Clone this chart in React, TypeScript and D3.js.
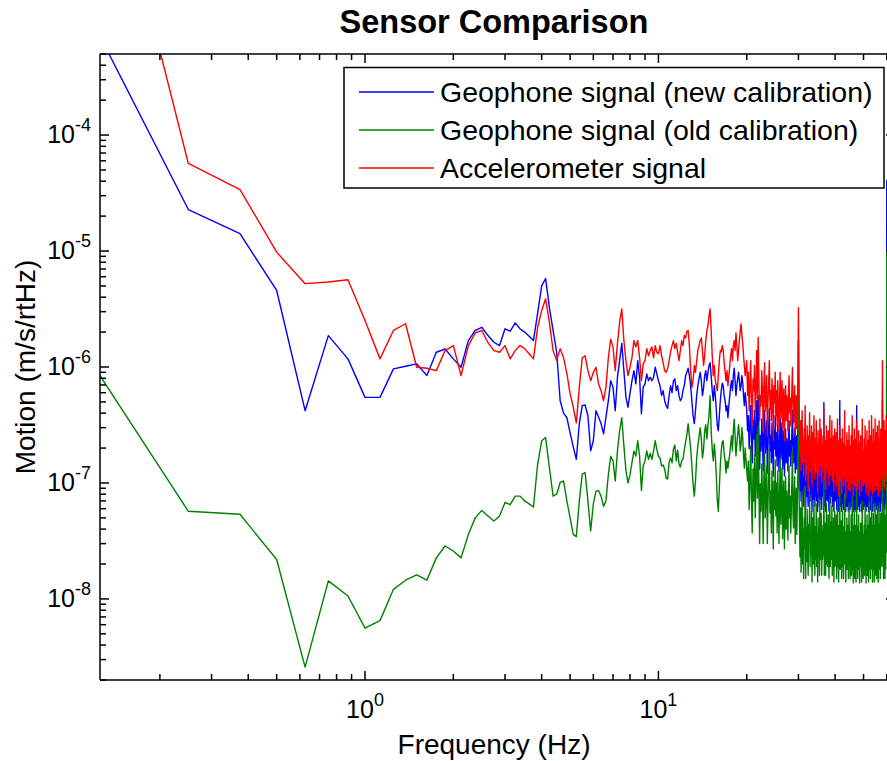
import React from "react";
import * as d3 from "d3";

// Spectral bins: k = 1..512, f = k * 0.125 Hz (0.125 … 64 Hz)
const FREQ_STEP = 0.125;
// Amplitude values in nm/s/√Hz (×1e-9 → m/s/√Hz)
const UNIT = 1e-9;

const geophoneNew: number[] = [
  710000, 22800, 14100, 4570, 420, 1866, 1175, 547, 547, 963,
  1014, 1065, 843, 1340, 1430, 1175, 995, 1690, 2065, 2200,
  1866, 1635, 1530, 2135, 2035, 2400, 2135, 2000, 1840, 1690,
  2900, 5000, 5800, 3250, 2065, 1340, 512, 400, 365, 270,
  205, 160, 325, 464, 470, 380, 189, 231, 420, 370,
  325, 265, 370, 512, 762, 670, 420, 815, 1135, 1600,
  930, 547, 450, 590, 762, 930, 715, 1135, 815, 395,
  670, 715, 870, 762, 815, 762, 815, 995, 870, 762,
  690, 566, 625, 512, 464, 440, 566, 690, 600, 762,
  790, 625, 690, 566, 512, 535, 625, 690, 843, 900,
  975, 843, 690, 512, 380, 325, 420, 566, 690, 790,
  900, 762, 566, 655, 843, 930, 762, 900, 1030, 1090,
  843, 625, 512, 690, 566, 420, 311, 282, 380, 512,
  625, 725, 690, 566, 512, 420, 464, 365, 464, 566,
  690, 762, 625, 843, 975, 762, 566, 690, 790, 900,
  762, 625, 690, 843, 735, 566, 464, 600, 512, 420,
  282, 380, 197, 311, 464, 231, 149, 344, 240, 420,
  171, 293, 512, 222, 566, 271, 132, 255, 189, 357,
  240, 127, 293, 420, 181, 231, 344, 122, 209, 311,
  437, 189, 255, 149, 330, 231, 115, 282, 197, 380,
  171, 271, 140, 311, 209, 127, 231, 357, 161, 250,
  330, 132, 209, 282, 115, 189, 293, 149, 240, 197,
  127, 255, 344, 171, 231, 140, 197, 282, 420, 181,
  149, 222, 293, 122, 189, 255, 132, 209, 311, 1690,
  282, 132, 85, 171, 70, 108, 209, 77, 127, 63,
  149, 94, 231, 59, 115, 77, 161, 88, 63, 132,
  104, 197, 70, 115, 82, 155, 57, 100, 140, 72,
  189, 88, 63, 122, 77, 171, 70, 108, 57, 140,
  85, 122, 63, 181, 72, 104, 149, 59, 115, 77,
  132, 82, 493, 63, 100, 127, 57, 94, 171, 72,
  115, 70, 149, 85, 57, 122, 197, 67, 104, 132,
  77, 171, 63, 108, 85, 140, 57, 100, 155, 70,
  108, 72, 149, 59, 94, 189, 70, 115, 57, 127,
  85, 512, 63, 104, 77, 132, 57, 88, 155, 67,
  104, 59, 122, 82, 209, 70, 94, 57, 115, 77,
  140, 63, 88, 127, 57, 85, 171, 70, 108, 59,
  115, 72, 149, 63, 94, 197, 67, 104, 57, 127,
  82, 155, 59, 100, 72, 127, 57, 88, 464, 67,
  104, 59, 122, 77, 149, 63, 94, 57, 115, 82,
  132, 67, 100, 57, 115, 189, 72, 88, 59, 108,
  77, 127, 63, 100, 171, 70, 88, 57, 122, 82,
  149, 63, 94, 127, 72, 57, 108, 189, 67, 88,
  115, 59, 140, 77, 100, 197, 63, 94, 57, 127,
  82, 155, 67, 108, 57, 127, 77, 181, 63, 94,
  122, 72, 149, 59, 94, 171, 77, 108, 57, 132,
  85, 181, 63, 104, 127, 57, 88, 155, 70, 115,
  140, 67, 209, 512, 161, 77, 115, 59, 100, 171,
  72, 127, 59, 94, 149, 67, 104, 189, 85, 40800,
  115, 77, 155, 63, 100, 132, 70, 108, 171, 82,
  57, 127, 88, 149, 67, 104, 189, 77, 122, 59,
  94, 155, 72, 115, 63, 100, 140, 70, 108, 85,
  161, 77,
];

const geophoneOld: number[] = [
  843, 57, 53.7, 21.9, 2.58, 14.3, 10.6, 5.6, 6.5, 12.1,
  14.5, 16.1, 14.5, 22.6, 28.6, 25.9, 22.6, 36, 50, 58,
  52, 47, 52, 68, 65, 77, 77, 70, 66, 62,
  145, 231, 247, 136, 77, 80, 101, 104, 70, 50,
  36, 34.5, 70, 119, 123, 70, 38.5, 66, 85, 86,
  77, 63, 70, 118, 170, 155, 104, 189, 282, 365,
  210, 127, 100, 118, 150, 189, 170, 231, 170, 86,
  140, 155, 189, 160, 180, 160, 189, 231, 195, 170,
  164, 140, 143, 132, 110, 108, 152, 164, 149, 196,
  213, 155, 192, 146, 137, 155, 160, 192, 226, 260,
  325, 255, 200, 140, 98, 77, 104, 164, 209, 250,
  300, 240, 164, 196, 282, 318, 240, 318, 380, 566,
  282, 196, 155, 217, 171, 115, 70, 57, 90, 140,
  189, 226, 231, 178, 155, 122, 155, 134, 155, 178,
  217, 255, 189, 282, 355, 255, 171, 217, 265, 318,
  255, 189, 217, 300, 245, 171, 134, 200, 160, 127,
  104, 155, 59, 104, 209, 72, 37, 132, 70, 174,
  50, 108, 255, 74, 311, 96, 30, 98, 57, 146,
  80, 30, 113, 181, 50, 82, 140, 30, 66, 115,
  197, 55, 85, 37, 127, 72, 27, 104, 59, 158,
  52, 100, 37, 127, 70, 30, 82, 161, 44, 92,
  134, 33, 70, 104, 27, 57, 113, 40, 85, 62,
  32, 90, 140, 50, 77, 37, 62, 104, 189, 55,
  41, 74, 113, 30, 59, 90, 36, 70, 127, 762,
  108, 42, 23, 61, 17, 37, 85, 20, 40, 15,
  50, 27, 94, 15, 41, 21, 59, 27, 16, 44,
  33, 76, 19, 38, 24, 57, 14, 33, 50, 20,
  70, 27, 16, 42, 22, 66, 19, 36, 14, 50,
  25, 41, 16, 74, 22, 33, 55, 16, 39, 22,
  43, 24, 111, 16, 33, 45, 16, 30, 66, 20,
  37, 19, 53, 25, 15, 41, 76, 19, 33, 46,
  22, 63, 16, 36, 25, 50, 14, 32, 57, 19,
  36, 20, 53, 15, 30, 72, 19, 38, 14, 43,
  25, 108, 18, 34, 22, 47, 15, 28, 57, 19,
  34, 15, 42, 24, 80, 20, 30, 14, 38, 22,
  50, 18, 28, 43, 15, 26, 66, 20, 36, 15,
  38, 20, 53, 16, 30, 76, 18, 34, 13.7, 43,
  24, 57, 15, 33, 20, 43, 14, 27, 106, 19,
  34, 15, 42, 22, 53, 18, 30, 13.7, 38, 24,
  45, 19, 32, 14, 38, 70, 20, 28, 15, 36,
  22, 43, 16, 32, 63, 19, 27, 13.7, 40, 23,
  53, 16, 30, 43, 20, 14, 36, 70, 18, 27,
  38, 15, 50, 22, 32, 76, 18, 29, 14, 43,
  24, 55, 18, 36, 14, 43, 22, 67, 16, 30,
  41, 20, 53, 15, 30, 63, 22, 36, 14, 45,
  25, 67, 18, 34, 43, 15, 27, 55, 20, 38,
  48, 19, 77, 127, 57, 22, 38, 15, 32, 63,
  20, 42, 15, 30, 53, 18, 34, 70, 25, 10100,
  38.5, 25, 55, 19, 34, 47, 21, 37, 63, 27,
  15.7, 43, 29, 53, 20, 33, 70, 24, 41, 17.4,
  30, 55, 22, 38.5, 18, 31.6, 49, 21.6, 36, 28,
  57, 25,
];

const accelerometer: number[] = [
  59000000, 56900, 33900, 9780, 5230, 5400, 5660, 2520, 1175, 2065,
  2360, 995, 975, 930, 1386, 1530, 843, 1530, 1970, 2065,
  1620, 1386, 1340, 1530, 1175, 1386, 1530, 1440, 1300, 1175,
  2200, 3070, 3870, 2440, 1386, 1135, 1440, 1200, 880, 590,
  450, 330, 670, 1200, 1250, 930, 762, 900, 995, 715,
  625, 512, 670, 1200, 1740, 1490, 930, 1600, 2440, 3170,
  1690, 1135, 843, 995, 1200, 1690, 1490, 1690, 1200, 762,
  1070, 1135, 1440, 1250, 1386, 1490, 1200, 1530, 1340, 1300,
  1530, 1255, 1090, 930, 900, 975, 1135, 1350, 1530, 1690,
  1440, 1600, 1350, 1135, 1386, 1690, 1530, 1870, 1780, 2030,
  2065, 1530, 930, 665, 762, 1030, 900, 1135, 1386, 1530,
  1690, 1780, 1386, 1030, 1255, 1690, 2065, 2280, 2780, 3170,
  2065, 1255, 843, 1030, 762, 690, 625, 843, 1135, 1386,
  1350, 1530, 1386, 1090, 900, 762, 930, 690, 843, 1030,
  1255, 1440, 1135, 1530, 1690, 1386, 1970, 1530, 1135, 1386,
  1690, 2065, 2350, 1870, 1600, 1255, 1030, 843, 975, 1135,
  566, 900, 420, 690, 1135, 493, 311, 790, 625, 1030,
  404, 650, 1386, 535, 1800, 762, 344, 566, 464, 930,
  600, 282, 690, 1090, 420, 535, 843, 255, 512, 733,
  1135, 437, 625, 344, 790, 566, 231, 690, 493, 900,
  380, 625, 311, 762, 464, 271, 535, 900, 357, 566,
  762, 293, 493, 650, 231, 420, 690, 344, 566, 464,
  282, 600, 843, 404, 535, 311, 464, 650, 990, 420,
  330, 512, 690, 255, 404, 566, 293, 493, 762, 3240,
  625, 282, 171, 344, 127, 209, 420, 149, 240, 115,
  293, 181, 464, 104, 231, 140, 311, 161, 85, 255,
  197, 404, 127, 222, 155, 311, 94, 189, 271, 132,
  380, 171, 108, 240, 149, 344, 122, 209, 82, 282,
  161, 231, 115, 357, 140, 189, 293, 100, 209, 127,
  255, 149, 437, 108, 189, 231, 88, 171, 311, 132,
  209, 122, 282, 155, 94, 231, 380, 115, 181, 240,
  132, 344, 104, 209, 149, 255, 85, 189, 293, 122,
  209, 127, 271, 94, 171, 357, 108, 197, 77, 231,
  149, 311, 104, 181, 127, 240, 82, 161, 293, 115,
  189, 94, 222, 140, 420, 108, 171, 74, 209, 132,
  271, 104, 161, 231, 88, 149, 311, 115, 189, 85,
  209, 127, 255, 100, 161, 380, 113, 181, 77, 231,
  140, 293, 94, 171, 122, 240, 85, 155, 344, 108,
  181, 88, 209, 127, 282, 100, 161, 77, 222, 132,
  255, 108, 171, 85, 197, 357, 122, 155, 94, 189,
  127, 240, 100, 171, 311, 108, 149, 82, 209, 132,
  282, 94, 161, 231, 115, 77, 189, 344, 104, 149,
  197, 88, 255, 127, 171, 380, 100, 155, 80, 222,
  132, 293, 108, 181, 85, 231, 122, 357, 94, 161,
  209, 115, 271, 88, 155, 311, 127, 189, 77, 240,
  140, 344, 104, 171, 222, 85, 149, 293, 115, 197,
  255, 108, 420, 1135, 311, 132, 209, 94, 171, 344,
  122, 231, 88, 161, 282, 108, 189, 380, 140, 127,
  171, 282, 108, 197, 344, 132, 231, 94, 161, 311,
  122, 209, 85, 155, 271, 108, 181, 357, 127, 222,
  88, 171, 293, 115, 189, 77, 149, 255, 104, 197,
  330, 132,
];

const SERIES_LABELS = [
  "Geophone signal (new calibration)",
  "Geophone signal (old calibration)",
  "Accelerometer signal",
];
const SERIES_COLORS = ["#0000ff", "#008000", "#ff0000"];
const X_MAJOR_TICKS = [1, 10];
const Y_MAJOR_TICKS = [1e-8, 1e-7, 1e-6, 1e-5, 1e-4];
const TITLE = "Sensor Comparison";
const X_LABEL = "Frequency (Hz)";
const Y_LABEL = "Motion (m/s/rtHz)";

const FONT = "'Liberation Sans', Arial, Helvetica, sans-serif";

export default function App() {
  const W = 887;
  const H = 761;
  const left = 100;
  const right = 895;
  const top = 54;
  const bottom = 680;

  const x = d3.scaleLog().domain([0.125, 64]).range([left, right]);
  const y = d3.scaleLog().domain([2e-9, 5e-4]).range([bottom, top]);

  const series = [geophoneNew, geophoneOld, accelerometer];
  const n = Math.min(...series.map((s) => s.length));
  const freqs = d3.range(1, n + 1).map((k) => k * FREQ_STEP);

  const line = d3
    .line<number>()
    .x((_, i) => x(freqs[i]))
    .y((d) => y(d * UNIT));

  const xTicks: { v: number; major: boolean }[] = [];
  for (let e = -1; e <= 1; e++) {
    for (let m = 1; m <= 9; m++) {
      const v = m * Math.pow(10, e);
      if (v >= 0.125 && v <= 64) xTicks.push({ v, major: m === 1 });
    }
  }
  const yTicks: { v: number; major: boolean }[] = [];
  for (let e = -9; e <= -4; e++) {
    for (let m = 1; m <= 9; m++) {
      const v = m * Math.pow(10, e);
      if (v >= 2e-9 && v <= 5e-4) yTicks.push({ v, major: m === 1 });
    }
  }
  const majorLen = 9;
  const minorLen = 6;

  const legendX = 344;
  const legendY = 67.5;
  const legendW = 540;
  const legendH = 120.5;
  const rowYs = [92, 130, 168];

  return (
    <div style={{ position: "absolute", left: 0, top: 0 }}>
      <svg width={W} height={H} style={{ display: "block", background: "#fff" }} fontFamily={FONT}>
        <defs>
          <clipPath id="plotClip">
            <rect x={left} y={top} width={right - left} height={bottom - top} />
          </clipPath>
        </defs>
        <rect x={0} y={0} width={W} height={H} fill="#fff" />

        {/* data */}
        <g clipPath="url(#plotClip)" fill="none" strokeWidth={1.4} strokeLinejoin="round">
          {series.map((s, i) => (
            <path key={i} d={line(s.slice(0, n)) || ""} stroke={SERIES_COLORS[i]} />
          ))}
        </g>

        {/* axes box */}
        <g stroke="#000" strokeWidth={1.5} fill="none">
          <line x1={left} y1={top} x2={left} y2={bottom} />
          <line x1={left} y1={bottom} x2={right} y2={bottom} />
          <line x1={left} y1={top} x2={right} y2={top} />
          <line x1={right} y1={top} x2={right} y2={bottom} />
          {xTicks.map((t, i) => {
            const px = x(t.v);
            const L = t.major ? majorLen : minorLen;
            return (
              <g key={"xt" + i}>
                <line x1={px} y1={bottom} x2={px} y2={bottom - L} />
                <line x1={px} y1={top} x2={px} y2={top + L} />
              </g>
            );
          })}
          {yTicks.map((t, i) => {
            const py = y(t.v);
            const L = t.major ? majorLen : minorLen;
            return (
              <g key={"yt" + i}>
                <line x1={left} y1={py} x2={left + L} y2={py} />
                <line x1={right} y1={py} x2={right - L} y2={py} />
              </g>
            );
          })}
        </g>

        {/* tick labels */}
        <g fill="#000" fontSize={25}>
          {X_MAJOR_TICKS.map((v) => (
            <text key={"xl" + v} x={x(v)} y={718} textAnchor="middle">
              <tspan>10</tspan>
              <tspan dy={-12} fontSize={18}>{String(Math.round(Math.log10(v)))}</tspan>
            </text>
          ))}
          {Y_MAJOR_TICKS.map((v) => (
            <text key={"yl" + v} x={91} y={y(v) + 8} textAnchor="end">
              <tspan>10</tspan>
              <tspan dy={-12} fontSize={18}>{String(Math.round(Math.log10(v)))}</tspan>
            </text>
          ))}
        </g>

        {/* labels */}
        <text x={494} y={33} textAnchor="middle" fontSize={32.5} fontWeight="bold" fill="#000">
          {TITLE}
        </text>
        <text x={494} y={754} textAnchor="middle" fontSize={28} fill="#000">
          {X_LABEL}
        </text>
        <text
          transform={`translate(35, 367) rotate(-90)`}
          textAnchor="middle"
          fontSize={28}
          fill="#000"
        >
          {Y_LABEL}
        </text>

        {/* legend */}
        <g>
          <rect x={legendX} y={legendY} width={legendW} height={legendH} fill="#fff" stroke="#000" strokeWidth={1.5} />
          {SERIES_LABELS.map((lab, i) => (
            <g key={lab}>
              <line x1={359} x2={434} y1={rowYs[i]} y2={rowYs[i]} stroke={SERIES_COLORS[i]} strokeWidth={1.4} />
              <text x={440} y={rowYs[i] + 10} fontSize={28.5} fill="#000">
                {lab}
              </text>
            </g>
          ))}
        </g>
      </svg>
    </div>
  );
}
